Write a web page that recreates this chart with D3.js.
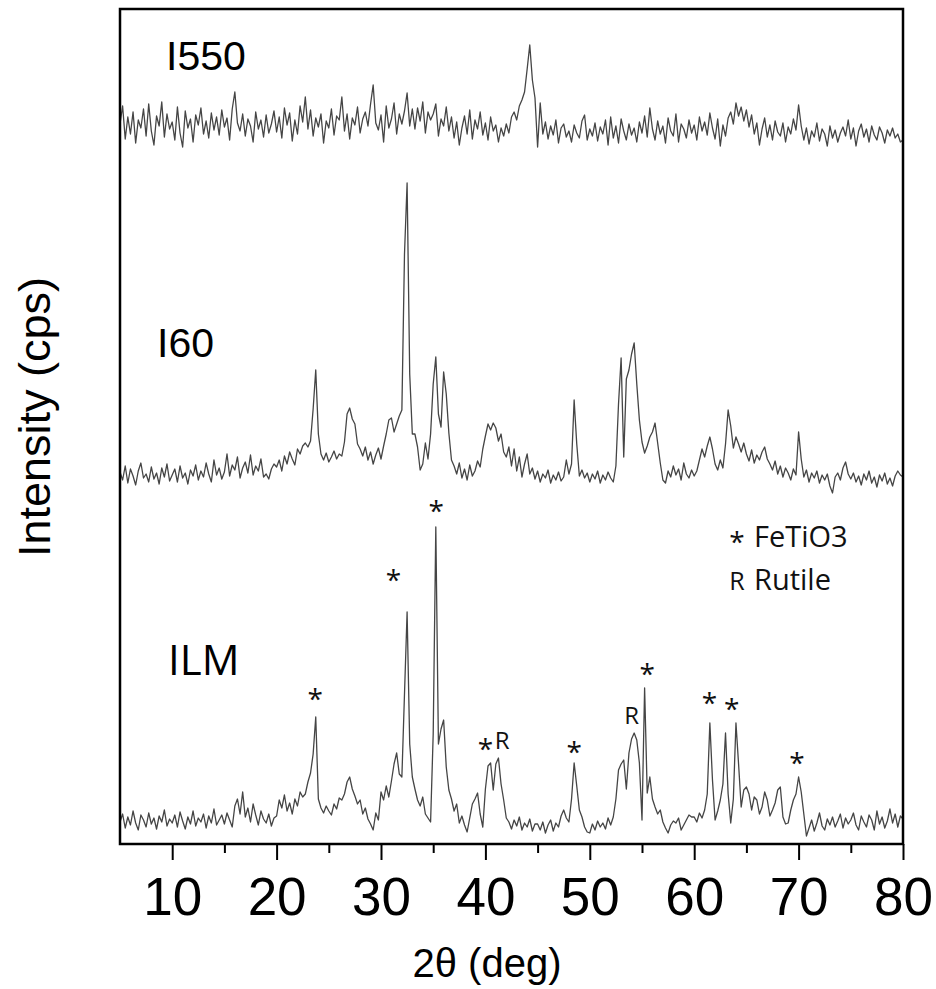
<!DOCTYPE html>
<html><head><meta charset="utf-8">
<script src="https://cdn.jsdelivr.net/npm/d3@7/dist/d3.min.js"></script>
<style>body{margin:0;background:#fff}</style>
</head><body><svg id="c" width="936" height="989"></svg>
<script>
// 2θ grid: 5° to 80° in 0.25° steps
const angleStart = 5, angleStep = 0.25;

// ILM intensity (cps, arbitrary)
const ilm = [
22,30,16,27,19,33,21,14,29,24,17,31,20,26,15,28,22,34,18,25,
21,29,17,32,23,15,27,20,33,18,26,22,30,16,28,21,35,19,24,29,
20,31,24,17,38,45,30,52,27,36,22,40,29,19,33,25,21,30,18,26,
28,44,36,49,33,41,30,45,38,52,47,50,62,71,90,127,45,36,31,38,
33,29,40,35,46,44,50,62,67,55,48,40,44,30,36,25,20,14,31,24,
52,44,58,47,63,80,91,70,67,150,232,100,67,55,44,38,47,30,26,22,
110,317,100,115,124,77,54,45,33,40,21,28,19,12,26,40,45,51,30,17,
55,78,81,54,80,86,60,44,26,22,15,24,18,27,14,21,17,25,13,20,
20,14,22,11,19,24,13,21,17,28,34,26,22,45,81,58,34,27,17,12,
11,20,14,23,17,21,15,26,19,27,45,74,80,84,55,91,105,111,104,81,
24,156,51,67,45,37,30,34,22,16,11,19,23,21,26,14,19,24,29,27,
27,22,31,26,34,50,121,64,24,33,44,60,111,50,21,45,121,80,37,54,
57,50,34,47,44,30,37,52,44,28,34,41,54,57,27,20,21,34,44,50,
67,52,30,8,16,24,13,21,31,18,14,25,19,27,17,23,30,16,26,20,
24,31,19,14,28,22,17,29,24,14,33,20,27,16,23,35,21,30,17,28,
25];

// I60 intensity
const i60 = [
32,24,38,21,35,28,19,33,41,26,30,22,37,25,31,20,36,27,40,23,
29,35,22,38,26,31,20,34,28,39,24,33,27,41,30,22,44,29,36,25,
32,50,28,39,34,47,26,36,42,31,49,29,38,33,45,27,30,25,35,40,
37,44,33,48,40,52,45,39,55,50,58,61,57,63,95,134,70,50,44,51,
42,47,53,45,50,48,62,90,96,85,80,60,55,48,57,44,52,40,49,56,
45,58,70,84,86,72,80,88,94,250,321,130,70,70,57,34,40,61,45,70,
120,147,90,77,132,110,71,44,38,30,41,26,35,24,39,28,33,43,37,55,
68,80,74,81,76,63,70,52,47,57,38,55,33,47,27,40,50,30,36,25,
33,22,30,26,34,21,29,24,32,23,27,44,30,40,104,60,28,34,26,31,
22,30,25,33,21,29,24,32,26,22,38,100,146,47,125,134,150,161,120,84,
62,51,58,67,72,81,61,41,24,21,33,27,38,29,35,24,41,30,26,34,
28,33,44,55,47,58,67,55,40,34,44,36,60,94,78,56,67,60,52,61,
50,43,54,41,49,44,52,57,45,40,34,43,30,38,27,36,31,24,35,29,
72,45,27,34,22,31,26,33,21,29,24,30,18,11,27,31,24,36,42,30,
25,31,22,28,19,30,24,33,21,27,17,29,23,31,20,26,18,28,33,29,
27];

// I550 intensity
const i550 = [
40,58,25,47,30,52,21,44,36,55,28,60,33,19,48,38,62,27,50,35,
42,24,57,31,17,53,36,45,22,49,39,56,30,43,26,51,34,47,29,54,
37,46,24,55,72,41,33,50,28,45,38,22,52,35,44,27,49,31,40,53,
32,47,26,56,39,51,23,44,30,58,42,67,35,54,28,46,37,50,21,43,
36,55,29,48,44,67,33,50,25,46,39,57,31,45,52,38,60,79,41,34,
49,22,58,36,45,61,30,50,40,53,71,38,55,35,56,43,62,31,52,44,
50,60,28,45,38,57,33,47,26,42,19,36,48,30,54,25,44,35,52,29,
41,24,47,33,39,22,36,28,40,31,47,52,44,58,64,72,95,119,84,66,
17,61,30,42,25,38,29,44,21,36,40,27,33,22,39,31,26,43,49,24,
35,28,41,23,37,30,44,19,47,26,38,21,45,33,24,40,29,36,22,42,
31,48,27,56,35,24,43,30,38,21,46,33,28,50,22,40,35,26,44,31,
39,24,47,33,42,29,51,36,25,45,18,39,28,46,52,40,61,48,57,43,
54,37,49,30,41,19,35,46,27,39,24,43,32,28,41,22,37,30,45,34,
59,38,24,36,20,33,27,41,23,35,30,18,38,26,34,22,31,37,28,44,
25,36,18,33,40,27,35,22,38,29,24,37,31,21,34,28,36,26,30,22,
24];

const seriesNames = ["ILM", "I60", "I550"];
const xTicks = [10, 20, 30, 40, 50, 60, 70, 80];
const xMinorTicks = [15, 25, 35, 45, 55, 65, 75];

// phase marks on the ILM pattern
const annotAngles = [23.7, 31.2, 35.3, 40.0, 41.6, 48.5, 54.0, 55.5, 61.45, 63.6, 69.85];
const annotLabels = ["*", "*", "*", "*", "R", "*", "R", "*", "*", "*", "*"];
const annotLevels = [135, 254, 323, 85, 95, 82, 120, 160, 131, 125, 71];

const legendSymbols = ["*", "R"];
const legendLabels = ["FeTiO3", "Rutile"];

// ---------- drawing ----------
const svg = d3.select("#c");
const L = 120, R = 903, T = 9, B = 844;
const x = d3.scaleLinear().domain([5, 80]).range([L, R]);
const y = d3.scaleLinear().domain([0, 835]).range([B, T]);
const offsets = {ILM: 0, I60: 340, I550: 680};
const dataBy = {ILM: ilm, I60: i60, I550: i550};

const line = d3.line()
  .x((d, i) => x(angleStart + i * angleStep))
  .y(d => d);

seriesNames.forEach(name => {
  const off = offsets[name];
  svg.append("path")
    .datum(dataBy[name].map(v => y(v + off)))
    .attr("fill", "none")
    .attr("stroke", "#454545")
    .attr("stroke-width", 1.3)
    .attr("stroke-linejoin", "round")
    .attr("d", line);
});

// frame
svg.append("rect")
  .attr("x", L).attr("y", T).attr("width", R - L).attr("height", B - T)
  .attr("fill", "none").attr("stroke", "#000").attr("stroke-width", 2.5);

// x axis
const gx = svg.append("g").attr("transform", `translate(0,${B})`)
  .call(d3.axisBottom(x).tickValues(xTicks).tickSize(16).tickPadding(17).tickFormat(d3.format("d")));
gx.select(".domain").remove();
gx.selectAll(".tick line").attr("stroke", "#000").attr("stroke-width", 2);
gx.selectAll(".tick text").attr("font-family", "'Liberation Sans', Arial, sans-serif")
  .attr("font-size", 53).attr("fill", "#000");

const gm = svg.append("g").attr("transform", `translate(0,${B})`)
  .call(d3.axisBottom(x).tickValues(xMinorTicks).tickSize(9).tickFormat(""));
gm.select(".domain").remove();
gm.selectAll(".tick line").attr("stroke", "#000").attr("stroke-width", 2);

// axis titles
svg.append("text")
  .attr("x", 487).attr("y", 977)
  .attr("text-anchor", "middle")
  .attr("font-family", "'Liberation Sans', Arial, sans-serif")
  .attr("font-size", 40).attr("fill", "#000")
  .text("2θ (deg)");

svg.append("text")
  .attr("transform", "translate(50,417) rotate(-90)")
  .attr("text-anchor", "middle")
  .attr("font-family", "'Liberation Sans', Arial, sans-serif")
  .attr("font-size", 45).attr("fill", "#000")
  .text("Intensity (cps)");

// series labels
const labelPos = {I550: [166, 70, "'Liberation Sans', Arial, sans-serif", 41],
                  I60: [157, 357, "'Liberation Sans', Arial, sans-serif", 41],
                  ILM: [168, 675, "'Open Sans', sans-serif", 42]};
seriesNames.forEach(name => {
  const p = labelPos[name];
  svg.append("text").attr("x", p[0]).attr("y", p[1])
    .attr("font-family", p[2]).attr("font-size", p[3]).attr("fill", "#000")
    .text(name);
});

// peak annotations
annotAngles.forEach((a, i) => {
  const lab = annotLabels[i];
  svg.append("text")
    .attr("x", x(a)).attr("y", y(annotLevels[i]))
    .attr("text-anchor", "middle")
    .attr("font-family", "'Open Sans', sans-serif")
    .attr("font-size", lab === "*" ? 28 : 24)
    .attr("fill", "#111")
    .text(lab);
});

// legend
const legY = [547, 590];
legendSymbols.forEach((s, i) => {
  svg.append("text").attr("x", 737).attr("y", legY[i] + (s === "*" ? 5 : 0))
    .attr("text-anchor", "middle")
    .attr("font-family", "'Open Sans', sans-serif")
    .attr("font-size", s === "*" ? 28 : 25).attr("fill", "#111").text(s);
  svg.append("text").attr("x", 754).attr("y", legY[i])
    .attr("font-family", "'Open Sans', sans-serif")
    .attr("font-size", 29).attr("fill", "#111").text(legendLabels[i]);
});
</script>
</body></html>
